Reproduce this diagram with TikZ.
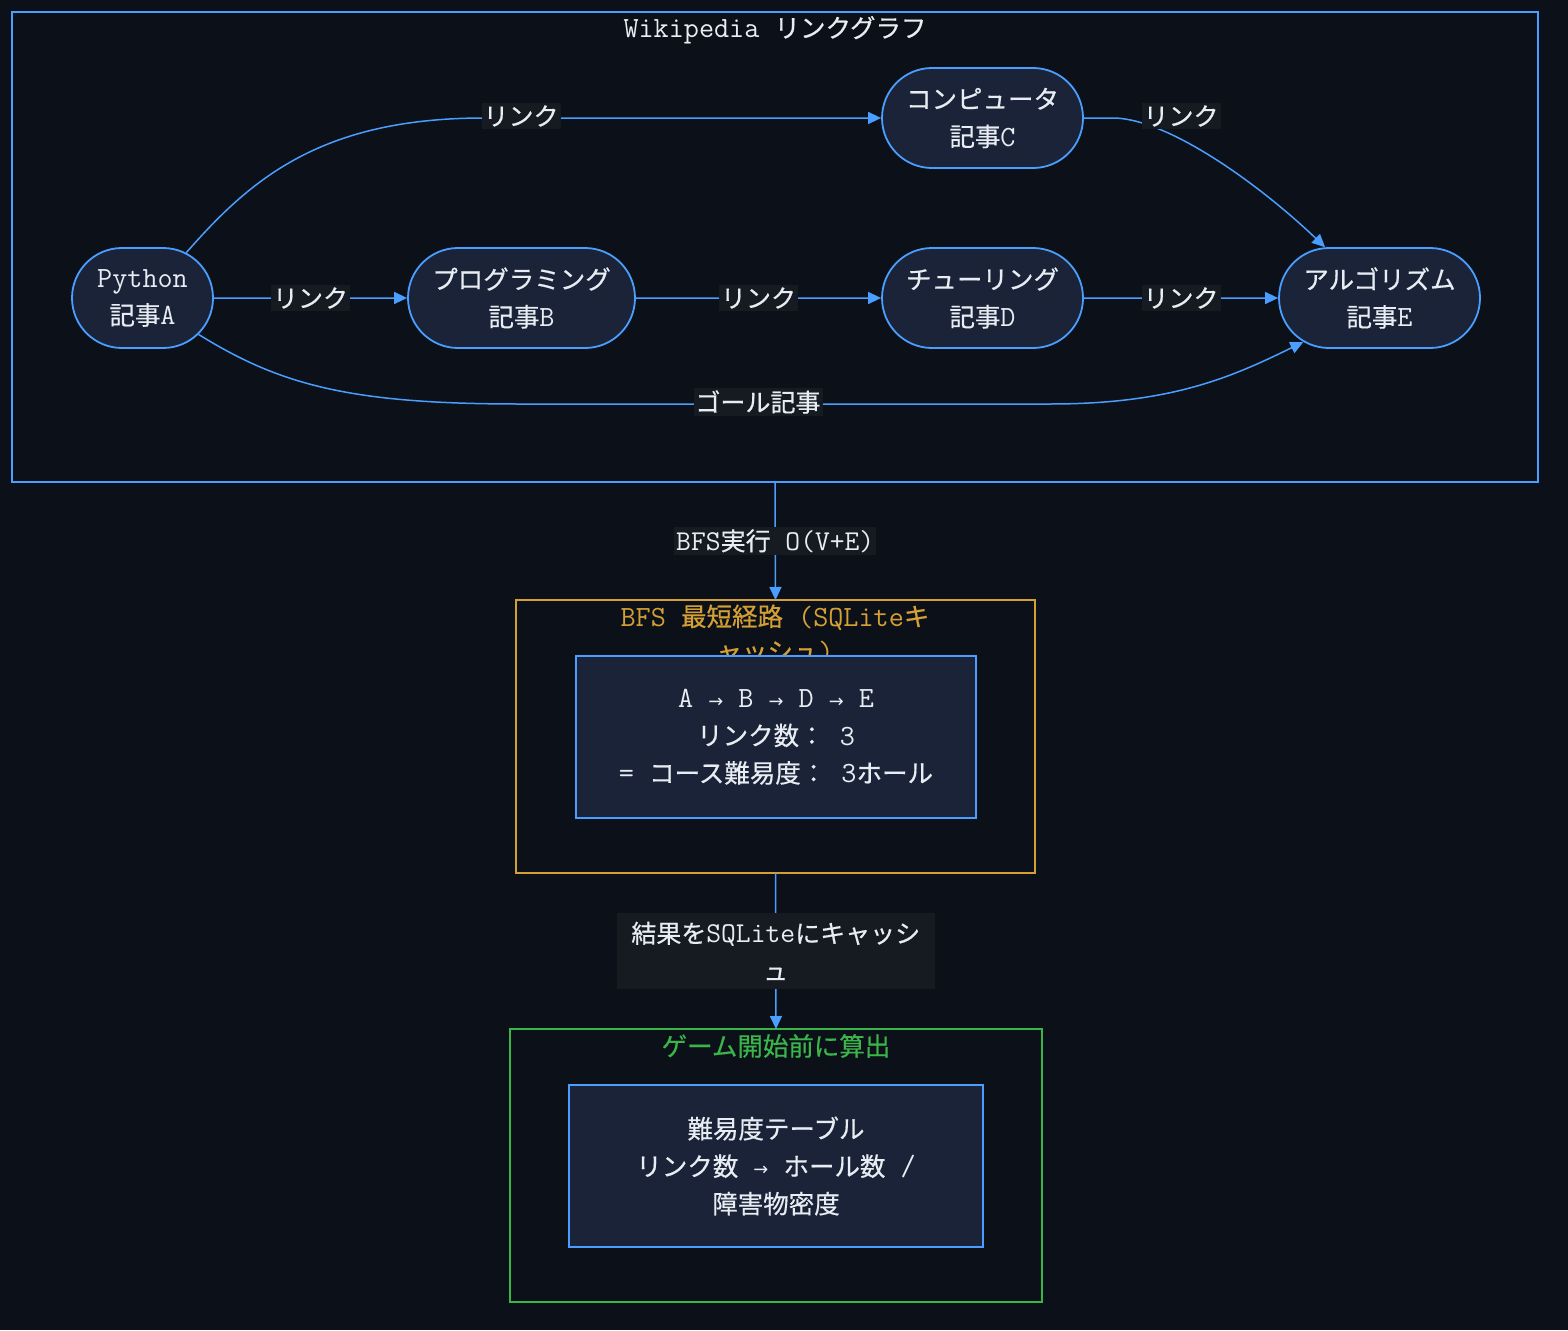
\documentclass[tikz,border=0pt]{standalone}
\usepackage{fontspec}
\setmainfont{Noto Sans CJK JP}[FakeBold=0.5]
\newfontfamily\ltn[Scale=1.15]{Latin Modern Mono}
\newfontfamily\arr[Scale=0.7]{DejaVu Sans}
\usetikzlibrary{shapes.misc,arrows.meta}
\definecolor{bg}{HTML}{0C1018}
\definecolor{blu}{HTML}{4A9EFF}
\definecolor{nodefill}{HTML}{1A2337}
\definecolor{lblbg}{HTML}{161B22}
\definecolor{gold}{HTML}{D4A035}
\definecolor{grn}{HTML}{3AB54A}
\definecolor{txt}{HTML}{E8EDF3}
\begin{document}
\begin{tikzpicture}[x=1pt,y=-1pt,
  every node/.style={text=txt},
  art/.style={rounded rectangle, draw=blu, line width=1.8pt, fill=nodefill, minimum height=100pt, inner sep=0pt, align=center, font=\fontsize{25.5}{37.5}\selectfont},
  edge/.style={draw=blu, line width=1.5pt, -{Triangle[length=13pt,width=12pt]}},
  lbl/.style={fill=lblbg, inner sep=2pt, font=\fontsize{25}{37.5}\selectfont, align=center},
  cont/.style={draw, line width=1.5pt, inner sep=0pt, outer sep=0pt},
  inbox/.style={draw=blu, line width=1.5pt, fill=nodefill, inner sep=0pt, align=center, font=\fontsize{25.5}{37.5}\selectfont},
  ttl/.style={font=\fontsize{25.5}{35}\selectfont, align=center, inner sep=0pt}
]
\useasboundingbox[fill=bg] (0,0) rectangle (1568,1330);

% containers
\node[cont, draw=blu, minimum width=1526pt, minimum height=470pt] (G) at (775,247) {};
\node[ttl] (Gt) at (775,30) {{\ltn Wikipedia\ }リンクグラフ};

\node[cont, draw=gold, minimum width=519pt, minimum height=273pt] (S) at (775.5,736.5) {};
\node[ttl, text=gold] (St) at (775,634) {{\ltn BFS\ }最短経路{\ltn\ (SQLite}キ\\ャッシュ{\ltn)}};
\node[inbox, minimum width=400pt, minimum height=162pt] (S1) at (776,737)
  {\ltn A \arr→\ltn{} B \arr→\ltn{} D \arr→\ltn{} E\\
   リンク数：{\ltn\ 3}\\
   {\ltn=\ }コース難易度：{\ltn\ 3}ホール};

\node[cont, draw=grn, minimum width=532pt, minimum height=273pt] (T) at (776,1165.5) {};
\node[ttl, text=grn] (Tt) at (776,1046) {ゲーム開始前に算出};
\node[inbox, minimum width=414pt, minimum height=162pt] (T1) at (776,1166)
  {難易度テーブル\\
   リンク数{\ltn\ }{\arr →}{\ltn\ }ホール数{\ltn\ /}\\
   障害物密度};

% article nodes
\node[art, minimum width=141pt] (A) at (142.5,298) {{\ltn Python}\\記事{\ltn A}};
\node[art, minimum width=227pt] (B) at (521.5,298) {プログラミング\\記事{\ltn B}};
\node[art, minimum width=201pt] (C) at (982.5,118) {コンピュータ\\記事{\ltn C}};
\node[art, minimum width=201pt] (D) at (982.5,298) {チューリング\\記事{\ltn D}};
\node[art, minimum width=201pt] (E) at (1379.5,298) {アルゴリズム\\記事{\ltn E}};

% edges
\draw[edge] (A) -- node[lbl] (l1) {リンク} (B);
\draw[edge] (B) -- node[lbl] (l2) {リンク} (D);
\draw[edge] (D) -- node[lbl] (l3) {リンク} (E);
\draw[edge] (A.46) .. controls (250,180) and (320,118) .. (484,118) -- (C.west);
\node[lbl] (l4) at (521,116) {リンク};
\draw[edge] (C.east) -- (1115,118) .. controls (1170,120) and (1260,185) .. (E.137);
\node[lbl] (l5) at (1181,116) {リンク};
\draw[edge] (A.-33) .. controls (280,385) and (350,404) .. (520,404) -- (1050,404) .. controls (1170,404) and (1230,378) .. (E.-150);
\node[lbl] (l6) at (758,402) {ゴール記事};

\draw[edge] (G.south) -- node[lbl] (l7) {{\ltn BFS}実行{\ltn\ O(V+E)}} (S.north);
\draw[edge] (S.south) -- node[lbl, minimum width=318pt, minimum height=76pt] (l8) {結果を{\ltn SQLite}にキャッシ\\ュ} (T.north);
\end{tikzpicture}
\end{document}
